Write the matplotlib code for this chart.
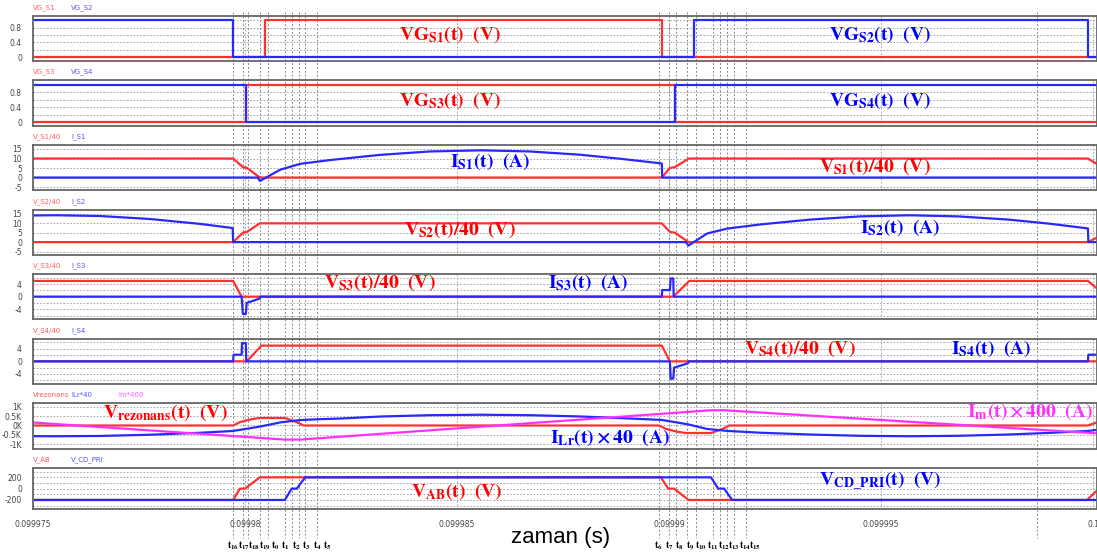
import numpy as np
import matplotlib.pyplot as plt
from matplotlib.ticker import FixedLocator, MultipleLocator

plt.rcParams['mathtext.fontset'] = 'stix'

# time origin of the window (s); all time arrays below are in microseconds from T0
T0 = 0.099975

# ---- panel 1: gate signals S1 / S2
vg_s1_t = [0, 5.47, 5.47, 14.84, 14.84, 25.1]
vg_s1 = [0, 0, 1, 1, 0, 0]
vg_s2_t = [0, 4.72, 4.72, 15.59, 15.59, 24.88, 24.88, 25.1]
vg_s2 = [1, 1, 0, 0, 1, 1, 0, 0]

# ---- panel 2: gate signals S3 / S4
vg_s3_t = [0, 5.02, 5.02, 15.14, 15.14, 25.1]
vg_s3 = [0, 0, 1, 1, 0, 0]
vg_s4_t = [0, 5.02, 5.02, 15.14, 15.14, 25.1]
vg_s4 = [1, 1, 0, 0, 1, 1]

# ---- panel 3: V_S1/40, I_S1
vs1_t = [0, 4.72, 4.95, 5.05, 5.35, 14.83, 15.02, 15.14, 15.47, 24.88, 25.1]
vs1 = [10, 10, 5.5, 5, 0, 0, 5, 5.5, 10, 10, 7]
is1_t = [0, 5.30, 5.35, 5.83, 6.30, 7.01, 8.18, 9.36, 10.57, 11.72, 12.90, 13.84, 14.83, 14.84, 25.1]
is1 = [0, 0, -1.8, 4.1, 7.2, 9.2, 11.9, 13.7, 14.3, 13.7, 12.0, 9.9, 7.4, 0, 0]

# ---- panel 4: V_S2/40, I_S2
vs2_t = [0, 4.72, 4.95, 5.05, 5.35, 14.83, 15.02, 15.14, 15.46, 24.88, 25.1]
vs2 = [0, 0, 5, 5.5, 10, 10, 5.5, 5, 0, 0, 2.5]
is2_t = [0, 0.57, 1.58, 2.76, 3.94, 4.71, 4.72, 15.40, 15.46, 15.90, 16.37, 17.15, 18.33,
         19.51, 20.66, 21.82, 23.00, 23.94, 24.88, 24.89, 25.1]
is2 = [14.2, 14.3, 13.9, 12.3, 9.7, 7.5, 0, 0, -1.8, 4.6, 7.2, 9.4, 12.0,
       13.7, 14.3, 13.7, 12.0, 9.9, 7.3, 0, 0]

# ---- panel 5: V_S3/40, I_S3
vs3_t = [0, 4.72, 4.92, 15.10, 15.48, 24.88, 25.1]
vs3 = [5, 5, 0, 0, 5, 5, 2.5]
is3_t = [0, 4.92, 4.95, 5.02, 5.04, 5.35, 5.36, 14.83, 14.84, 15.02, 15.04, 15.10, 15.11, 25.1]
is3 = [0, 0, -5.5, -5.5, -2, -0.6, 0, 0, 2.1, 2.1, 5.8, 5.8, 0, 0]

# ---- panel 6: V_S4/40, I_S4
vs4_t = [0, 5.04, 5.39, 14.83, 15.02, 25.1]
vs4 = [0, 0, 5, 5, 0, 0]
is4_t = [0, 4.72, 4.73, 4.92, 4.93, 5.02, 5.03, 15.02, 15.04, 15.10, 15.12, 15.45, 15.46, 24.88, 24.89, 25.1]
is4 = [0, 0, 2.1, 2.1, 5.8, 5.8, 0, 0, -5.5, -5.5, -2, -0.6, 0, 0, 2.1, 2.1]

# ---- panel 7: Vrezonans, ILr*40, Im*400
vrez_t = [0, 4.72, 4.88, 5.00, 5.17, 5.35, 5.94, 6.22, 6.38, 14.76, 14.93, 15.05, 15.21,
          15.40, 15.99, 16.27, 16.42, 24.88, 25.1]
vrez = [0, 0, 180, 250, 340, 400, 400, 180, 0, 0, -180, -250, -340, -400, -400, -180, 0, 0, 170]
ilr_t = [0, 0.57, 1.58, 2.76, 3.94, 4.72, 5.35, 5.83, 6.30, 6.77, 7.24, 8.18, 9.36, 10.57,
         11.72, 12.90, 13.84, 14.83, 15.45, 15.90, 16.37, 17.15, 18.33, 19.51, 20.66, 21.82,
         23.00, 23.94, 24.88, 25.1]
ilr = [-568, -572, -556, -492, -388, -290, -60, 164, 288, 336, 370, 476, 548, 572,
       548, 480, 396, 296, 60, -184, -288, -384, -480, -548, -572, -548,
       -480, -396, -292, -230]
im_t = [0, 5.94, 6.30, 15.99, 16.30, 25.1]
im = [160, -750, -750, 810, 810, -420]

# ---- panel 8: V_AB, V_CD_PRI
vab_t = [0, 4.72, 4.88, 5.00, 5.35, 14.81, 14.98, 15.12, 15.46, 24.86, 25.1]
vab = [-200, -200, 0, 0, 200, 200, 0, 0, -200, -200, -30]
vcd_t = [0, 5.94, 6.10, 6.22, 6.42, 15.99, 16.16, 16.30, 16.49, 25.1]
vcd = [-200, -200, 0, 0, 200, 200, 0, 0, -200, -200]

# ---- switching instants
event_t = [4.72, 4.95, 5.07, 5.35, 5.54, 5.94, 6.11, 6.27, 6.42, 6.70,
           14.76, 15.00, 15.17, 15.42, 15.64, 16.04, 16.20, 16.37, 16.53, 16.82, 23.68]
event_lbl = ['16', '17', '18', '19', '0', '1', '2', '3', '4', '5',
             '6', '7', '8', '9', '10', '11', '12', '13', '14', '15', '']

xtick_us = [0, 5, 10, 15, 20, 25]
xtick_lbl = ['0.099975', '0.09998', '0.099985', '0.09999', '0.099995', '0.1']


def sec(us):
    return T0 + np.asarray(us, dtype=float) * 1e-6


RED = '#ff3030'
BLUE = '#2828ff'
MAG = '#ff30ff'
W, H = 1097, 555
XL = (T0, sec(25.094))
PX_PER_US = (W - 33) / 25.094

fig = plt.figure(figsize=(W / 100, H / 100), dpi=100)

# background axes for the dashed event lines and their labels
bg = fig.add_axes([33 / W, 0, 1 - 33 / W, 1])
bg.set_xlim(XL)
bg.set_ylim(H, 0)
bg.axis('off')
bg.vlines(sec(event_t), 12, 538, colors='#888888', lw=0.7, linestyles=(0, (2, 2)))

# nudge labels apart a little where the instants are very close
prev = -1e9
for t, l in zip(event_t, event_lbl):
    if not l:
        continue
    px = t * PX_PER_US
    shown = max(px, prev + 10.5)
    prev = shown
    bg.annotate(r'$\mathbf{t_{%s}}$' % l, (sec(t), 546), xytext=((shown - px) * 0.72, 0),
                textcoords='offset points', ha='center', va='center', fontsize=7)

# (top px, bottom px, ylim, ticks, tick labels, minor step, series)
panels = [
    (15.7, 61, (-0.1, 1.12), [0, 0.4, 0.8], ['0', '0.4', '0.8'], 0.2,
     [('VG_S1', vg_s1_t, vg_s1, RED), ('VG_S2', vg_s2_t, vg_s2, BLUE)]),
    (80, 126, (-0.1, 1.12), [0, 0.4, 0.8], ['0', '0.4', '0.8'], 0.2,
     [('VG_S3', vg_s3_t, vg_s3, RED), ('VG_S4', vg_s4_t, vg_s4, BLUE)]),
    (145, 190.3, (-6.7, 17.1), [-5, 0, 5, 10, 15], ['-5', '0', '5', '10', '15'], 5,
     [('V_S1/40', vs1_t, vs1, RED), ('I_S1', is1_t, is1, BLUE)]),
    (210, 254.7, (-6.7, 17.1), [-5, 0, 5, 10, 15], ['-5', '0', '5', '10', '15'], 5,
     [('V_S2/40', vs2_t, vs2, RED), ('I_S2', is2_t, is2, BLUE)]),
    (274, 319.3, (-7.2, 7.2), [-4, 0, 4], ['-4', '0', '4'], 2,
     [('V_S3/40', vs3_t, vs3, RED), ('I_S3', is3_t, is3, BLUE)]),
    (338.7, 384, (-7.2, 7.2), [-4, 0, 4], ['-4', '0', '4'], 2,
     [('V_S4/40', vs4_t, vs4, RED), ('I_S4', is4_t, is4, BLUE)]),
    (403.3, 448.7, (-1234, 1180), [-1000, -500, 0, 500, 1000], ['-1K', '-0.5K', '0K', '0.5K', '1K'], 500,
     [('Vrezonans', vrez_t, vrez, RED), ('ILr*40', ilr_t, ilr, BLUE), ('Im*400', im_t, im, MAG)]),
    (467.7, 509.3, (-365, 370), [-200, 0, 200], ['-200', '0', '200'], 100,
     [('V_AB', vab_t, vab, RED), ('V_CD_PRI', vcd_t, vcd, BLUE)]),
]

label_x = [0, 38, 85]
for i, (top, bot, yl, yt, ytl, mstep, series) in enumerate(panels):
    ax = fig.add_axes([33 / W, 1 - bot / H, 1 - 33 / W, (bot - top) / H], facecolor='none')
    for name, t, v, c in series:
        ax.plot(sec(t), v, color=c, lw=1.6)
    ax.set_xlim(XL)
    ax.set_ylim(yl)
    ax.yaxis.set_major_locator(FixedLocator(yt))
    ax.set_yticklabels(ytl)
    ax.yaxis.set_minor_locator(MultipleLocator(mstep))
    ax.set_xticks(sec(xtick_us))
    ax.set_xticklabels(xtick_lbl)
    ax.grid(which='both', axis='y', color='#9a9a9a', lw=0.6, ls=(0, (2, 2)))
    ax.grid(which='major', axis='x', color='#9a9a9a', lw=0.6, ls=(0, (2, 2)))
    ax.tick_params(which='both', length=0, labelsize=5.5, colors='#444444', pad=8)
    if i < len(panels) - 1:
        ax.tick_params(labelbottom=False)
    for s in ax.spines.values():
        s.set_color('#666666')
        s.set_linewidth(1.3)
    hpx = bot - top
    for k, (name, t, v, c) in enumerate(series):
        ax.text(label_x[k] / (W - 33), 1 + 8 / hpx, name, transform=ax.transAxes,
                fontsize=5, color=c, alpha=0.8, va='center', ha='left')

# big annotations
notes = [
    (450, 35, r'$\mathbf{VG_{S1}(t)\ \ (V)}$', 'red'),
    (880, 35, r'$\mathbf{VG_{S2}(t)\ \ (V)}$', 'blue'),
    (450, 101, r'$\mathbf{VG_{S3}(t)\ \ (V)}$', 'red'),
    (880, 101, r'$\mathbf{VG_{S4}(t)\ \ (V)}$', 'blue'),
    (490, 162, r'$\mathbf{I_{S1}(t)\ \ (A)}$', 'blue'),
    (875, 167, r'$\mathbf{V_{S1}(t)/40\ \ (V)}$', 'red'),
    (460, 230, r'$\mathbf{V_{S2}(t)/40\ \ (V)}$', 'red'),
    (900, 228, r'$\mathbf{I_{S2}(t)\ \ (A)}$', 'blue'),
    (380, 283, r'$\mathbf{V_{S3}(t)/40\ \ (V)}$', 'red'),
    (588, 283, r'$\mathbf{I_{S3}(t)\ \ (A)}$', 'blue'),
    (800, 349, r'$\mathbf{V_{S4}(t)/40\ \ (V)}$', 'red'),
    (991, 349, r'$\mathbf{I_{S4}(t)\ \ (A)}$', 'blue'),
    (165, 413, r'$\mathbf{V_{rezonans}(t)\ \ (V)}$', 'red'),
    (1030, 412, r'$\mathbf{I_{m}(t)\times 400\ \ (A)}$', MAG),
    (610, 438, r'$\mathbf{I_{Lr}(t)\times 40\ \ (A)}$', 'blue'),
    (457, 492, r'$\mathbf{V_{AB}(t)\ \ (V)}$', 'red'),
    (880, 481, r'$\mathbf{V_{CD\_PRI}(t)\ \ (V)}$', 'blue'),
]
for x, y, s, c in notes:
    fig.text(x / W, 1 - y / H, s, color=c, fontsize=14, ha='center', va='center')

fig.text(561 / W, 1 - 537 / H, 'zaman (s)', fontsize=16, ha='center', va='center',
         family='Liberation Sans')

fig.savefig('out.png', dpi=100)
